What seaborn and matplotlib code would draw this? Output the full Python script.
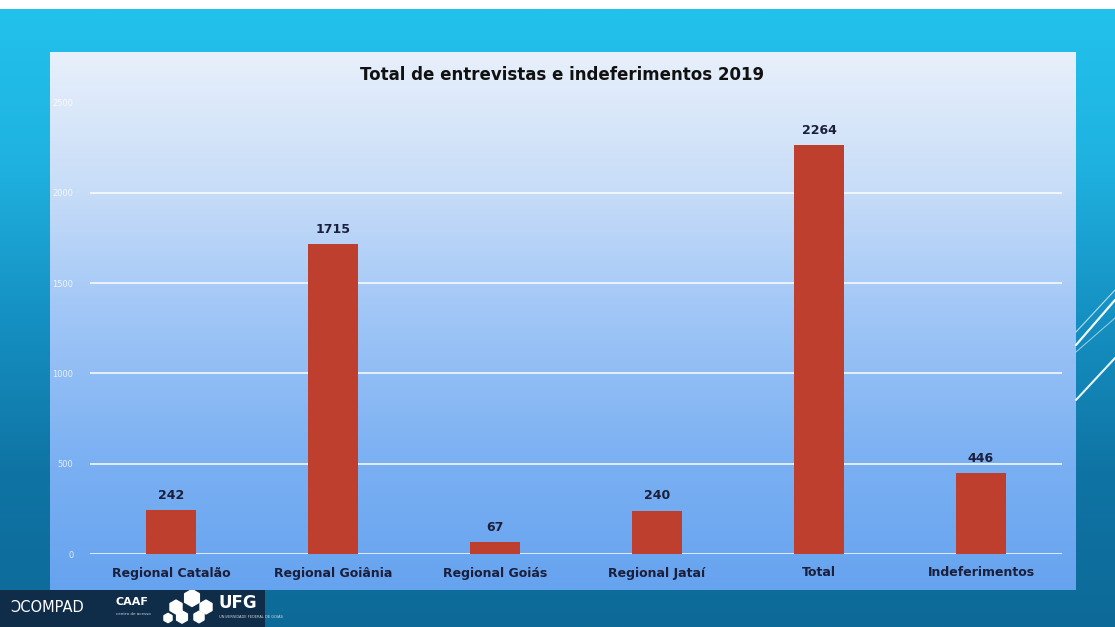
import numpy as np
import pandas as pd
import matplotlib
matplotlib.use("Agg")
import matplotlib.pyplot as plt
from matplotlib.colors import LinearSegmentedColormap
from matplotlib.lines import Line2D
import seaborn as sns

categories = ["Regional Catalão", "Regional Goiânia", "Regional Goiás",
              "Regional Jataí", "Total", "Indeferimentos"]
values = [242, 1715, 67, 240, 2264, 446]
yticks = [0, 500, 1000, 1500, 2000, 2500]
title = "Total de entrevistas e indeferimentos 2019"

sns.set_theme(style="white")
plt.rcParams["font.family"] = ["DejaVu Sans"]

W, H = 1115, 627
fig = plt.figure(figsize=(W / 100, H / 100), dpi=100)
fig.patch.set_facecolor("white")


def px(x0, y0, x1, y1):
    """Figure-fraction rectangle from pixel box (top-left origin)."""
    return [x0 / W, (H - y1) / H, (x1 - x0) / W, (y1 - y0) / H]


# slide background
bg = fig.add_axes(px(0, 9, W, H))
cmap_bg = LinearSegmentedColormap.from_list(
    "bg", ["#22c2ec", "#1fb2e0", "#1590c2", "#0f74a4", "#0d6a98"])
bg.imshow(np.linspace(0, 1, 256).reshape(-1, 1), aspect="auto", cmap=cmap_bg,
          extent=[0, 1, 0, 1], origin="upper")
bg.set_axis_off()

# decorative diagonal strokes on the right edge
for (xa, ya, xb, yb, lw, a) in [(1076, 345, 1115, 300, 1.6, 0.95),
                                (1076, 332, 1115, 290, 0.8, 0.7),
                                (1076, 352, 1115, 318, 0.7, 0.6),
                                (1076, 400, 1115, 358, 1.5, 0.9)]:
    fig.add_artist(Line2D([xa / W, xb / W], [1 - ya / H, 1 - yb / H],
                          color="white", lw=lw, alpha=a))

# chart panel
panel = fig.add_axes(px(50, 52, 1076, 590))
cmap_panel = LinearSegmentedColormap.from_list(
    "panel", ["#e8f0fb", "#c8ddf8", "#9ec5f6", "#7cb1f3", "#66a3ef"])
panel.imshow(np.linspace(0, 1, 256).reshape(-1, 1), aspect="auto",
             cmap=cmap_panel, extent=[0, 1, 0, 1], origin="upper")
panel.set_axis_off()

# plot area: y=0 at 554 px, y=2500 at 102.5 px
ax = fig.add_axes(px(90, 102.5, 1062, 554))
ax.patch.set_alpha(0)
df = pd.DataFrame({"categoria": categories, "valor": values})
sns.barplot(data=df, x="categoria", y="valor", color="#bf3f2e",
            saturation=1, width=0.31, linewidth=0, ax=ax, zorder=3)
ax.set_ylim(0, 2500)
ax.set_xlim(-0.5, len(categories) - 0.5)
ax.set_yticks(yticks)
ax.set_yticklabels([str(t) for t in yticks], fontsize=6,
                   color="white", alpha=0.8)
ax.yaxis.grid(True, color="white", lw=1.2, alpha=0.9, zorder=0)
ax.yaxis.get_gridlines()[-1].set_visible(False)
ax.set_axisbelow(True)
for s in ax.spines.values():
    s.set_visible(False)
ax.tick_params(axis="both", length=0)
ax.tick_params(axis="y", pad=12)
ax.tick_params(axis="x", pad=9)
ax.set_xlabel("")
ax.set_ylabel("")
ax.set_xticks(range(len(categories)))
ax.set_xticklabels(categories, fontsize=9, fontweight="bold",
                   color="#1b1f3b")
ax.bar_label(ax.containers[0], labels=[str(v) for v in values],
             padding=6, fontsize=9, fontweight="bold", color="#1b1f3b")

fig.text(562 / W, 1 - 75 / H, title, ha="center", va="center",
         fontsize=12, fontweight="bold", color="#111111")

# footer logo strip
logo = fig.add_axes(px(0, 590, 265, H))
logo.set_xlim(0, 265)
logo.set_ylim(37, 0)
logo.set_facecolor("#0f2c48")
for s in logo.spines.values():
    s.set_visible(False)
logo.set_xticks([])
logo.set_yticks([])
logo.text(10, 18, "ƆCOMPAD", color="white", fontsize=10.5, va="center")
logo.text(116, 12, "CAAF", color="white", fontsize=8, fontweight="bold",
          va="center")
logo.text(116, 24, "centro de acesso", color="white", fontsize=3,
          va="center", alpha=0.8)
logo.text(218, 13, "UFG", color="white", fontsize=12, fontweight="bold",
          va="center")
logo.text(219, 27, "UNIVERSIDADE FEDERAL DE GOIÁS", color="white",
          fontsize=2.6, va="center", alpha=0.8)
hx = [176, 192, 206, 182, 199, 168]
hy = [17, 8, 17, 27, 27, 28]
hs = [100, 150, 100, 80, 70, 45]
logo.scatter(hx, hy, s=hs, marker="h", color="white", zorder=3)

fig.savefig("out.png", dpi=100)
